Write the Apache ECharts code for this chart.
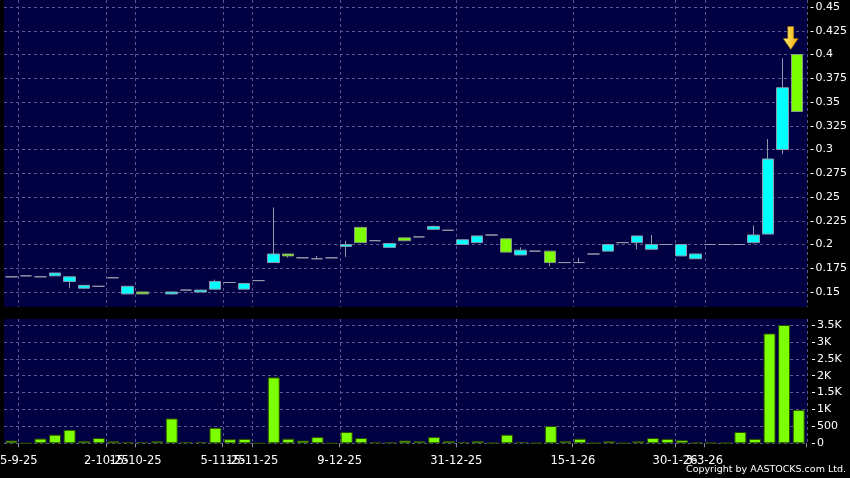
<!DOCTYPE html>
<html>
<head>
<meta charset="utf-8">
<script src="https://cdn.jsdelivr.net/npm/echarts@6/dist/echarts.min.js"></script>
<style>
html,body{margin:0;padding:0;background:#000;overflow:hidden;}
#chart{position:absolute;left:-30px;top:0;width:880px;height:478px;}
</style>
</head>
<body>
<div id="chart"></div>
<script>
// ---- data ----
const opens  = [0.166,0.167,0.166,0.167,0.161,0.154,0.156,0.165,0.148,0.150,0.147,0.148,0.152,0.150,0.153,0.160,0.153,0.162,0.181,0.190,0.186,0.185,0.186,0.198,0.218,0.204,0.197,0.207,0.208,0.216,0.215,0.200,0.202,0.210,0.206,0.189,0.193,0.193,0.181,0.181,0.190,0.193,0.202,0.202,0.195,0.200,0.188,0.185,0.200,0.200,0.200,0.202,0.211,0.300,0.400];
const closes = [0.166,0.167,0.166,0.170,0.166,0.157,0.156,0.165,0.156,0.148,0.147,0.150,0.152,0.152,0.161,0.160,0.159,0.162,0.190,0.188,0.186,0.185,0.186,0.200,0.202,0.204,0.201,0.204,0.208,0.219,0.215,0.205,0.209,0.210,0.192,0.194,0.193,0.181,0.181,0.181,0.190,0.200,0.202,0.209,0.200,0.200,0.200,0.190,0.200,0.200,0.200,0.210,0.290,0.365,0.340];
const lows   = [0.166,0.167,0.166,0.167,0.154,0.153,0.156,0.165,0.148,0.148,0.146,0.147,0.152,0.150,0.153,0.160,0.153,0.162,0.181,0.186,0.186,0.185,0.186,0.187,0.202,0.204,0.197,0.204,0.208,0.216,0.215,0.200,0.202,0.210,0.192,0.189,0.193,0.177,0.181,0.181,0.190,0.193,0.202,0.195,0.195,0.200,0.188,0.185,0.200,0.200,0.200,0.201,0.211,0.295,0.340];
const highs  = [0.166,0.167,0.166,0.170,0.166,0.157,0.156,0.165,0.156,0.150,0.147,0.150,0.152,0.152,0.163,0.160,0.159,0.162,0.239,0.190,0.186,0.188,0.186,0.204,0.218,0.204,0.201,0.207,0.208,0.220,0.215,0.205,0.209,0.210,0.206,0.197,0.193,0.193,0.181,0.186,0.190,0.200,0.202,0.209,0.210,0.200,0.200,0.190,0.200,0.200,0.200,0.220,0.311,0.396,0.400];
const volumes = [80,0,140,255,400,70,155,60,40,40,60,735,40,40,460,120,130,0,1950,135,80,185,0,335,155,30,30,80,60,185,70,40,70,15,255,40,10,510,60,135,10,60,10,60,155,130,90,30,15,15,335,130,3250,3500,990];
// x-axis date labels, keyed by the category they sit on
const dateTickIndex = [1,7,9,15,17,23,31,39,46,48];
const dateTickText  = ['5-9-25','2-10-25','15-10-25','5-11-25','15-11-25','9-12-25','31-12-25','15-1-26','30-1-26','3-3-26'];
// y tick settings
const priceMin = 0.15, priceMax = 0.45, priceStep = 0.025;
const volMin = 0, volMax = 3500, volStep = 500;

// ---- build ----
const cats = opens.map((_, i) => String(i));
const tickMap = {};
const groupA = {}, groupB = {};   // alternate labels onto two overlaid axes so none get auto-hidden
dateTickIndex.forEach((k, j) => {
  tickMap[k] = dateTickText[j];
  (j % 2 === 0 ? groupA : groupB)[k] = dateTickText[j];
});
const isTick = (idx) => tickMap.hasOwnProperty(idx);

const NAVY = '#000042';
const GRIDC = '#5a5a8c';
const GREY = '#9a9aaa';
const FONT = 'DejaVu Sans';
const L = 34; // grid left inside the (shifted) canvas

const candleData = opens.map((o, i) => {
  const v = [o, closes[i], lows[i], highs[i]];
  if (o === closes[i]) {
    return { value: v, itemStyle: { color: GREY, color0: GREY, borderColor: GREY, borderColor0: GREY } };
  }
  return v;
});
const last = opens.length - 1;

const dashed = { color: GRIDC, type: [3, 3], width: 1 };
const labelStyle = { color: '#ffffff', fontSize: 11.5, fontFamily: FONT, margin: 12, padding: [0, 14, 0, 0], hideOverlap: false };

const chart = echarts.init(document.getElementById('chart'), null, { renderer: 'canvas' });
chart.setOption({
  animation: false,
  backgroundColor: '#000',
  textStyle: { fontFamily: FONT },
  grid: [
    { left: L, top: 0, width: 803, height: 307, show: true, backgroundColor: NAVY, borderWidth: 0 },
    { left: L, top: 7, width: 802, height: 285 },
    { left: L, top: 319, width: 803, height: 124.3, show: true, backgroundColor: NAVY, borderWidth: 0 },
    { left: L, top: 325, width: 802, height: 118.3 }
  ],
  xAxis: [
    { type: 'category', gridIndex: 0, data: cats, boundaryGap: true,
      axisLine: { show: false }, axisTick: { show: false }, axisLabel: { show: false },
      splitLine: { show: true, interval: (i) => isTick(i), lineStyle: dashed } },
    { type: 'category', gridIndex: 1, data: cats, boundaryGap: true,
      axisLine: { show: false }, axisTick: { show: false }, axisLabel: { show: false }, splitLine: { show: false } },
    { type: 'category', gridIndex: 2, data: cats, boundaryGap: true,
      axisLine: { show: false }, axisTick: { show: false }, axisLabel: { show: false },
      splitLine: { show: true, interval: (i) => isTick(i), lineStyle: dashed } },
    { type: 'category', gridIndex: 3, position: 'bottom', data: cats, boundaryGap: true,
      axisLine: { show: false },
      axisTick: { show: true, interval: (i) => isTick(i), length: 4, lineStyle: { color: '#9090a0' } },
      axisLabel: Object.assign({ show: true, interval: (i) => groupA.hasOwnProperty(i),
        formatter: (v) => groupA[+v] || '' }, labelStyle),
      splitLine: { show: false } },
    { type: 'category', gridIndex: 3, position: 'bottom', data: cats, boundaryGap: true,
      axisLine: { show: false }, axisTick: { show: false },
      axisLabel: Object.assign({ show: true, interval: (i) => groupB.hasOwnProperty(i),
        formatter: (v) => groupB[+v] || '' }, labelStyle),
      splitLine: { show: false } }
  ],
  yAxis: [
    { type: 'value', gridIndex: 0, min: 0, max: 1, show: false },
    { type: 'value', gridIndex: 1, position: 'right', min: priceMin, max: priceMax, interval: priceStep, offset: 6,
      axisLine: { show: false },
      axisTick: { show: true, length: 3, lineStyle: { color: '#ffffff' } },
      axisLabel: { color: '#ffffff', fontSize: 11, fontFamily: FONT, margin: 5,
        formatter: (v) => String(+v.toFixed(3)) },
      splitLine: { show: true, lineStyle: dashed } },
    { type: 'value', gridIndex: 2, min: 0, max: 1, show: false },
    { type: 'value', gridIndex: 3, position: 'right', min: volMin, max: volMax, interval: volStep, offset: 6,
      axisLine: { show: false },
      axisTick: { show: true, length: 3, lineStyle: { color: '#ffffff' } },
      axisLabel: { color: '#ffffff', fontSize: 11, fontFamily: FONT, margin: 5,
        formatter: (v) => v === 0 ? '0' : (v < 1000 ? String(v) : (v / 1000) + 'K') },
      splitLine: { show: true, lineStyle: dashed } }
  ],
  series: [
    { type: 'candlestick', xAxisIndex: 1, yAxisIndex: 1, barWidth: 12, data: candleData,
      itemStyle: { color: '#00ffff', color0: '#7cff00', borderColor: '#8a9aaa', borderColor0: '#8a9a80', borderWidth: 1 },
      markPoint: {
        symbol: 'path://M4.5,0 L10.5,0 L10.5,12 L15,12 L7.5,23 L0,12 L4.5,12 Z',
        symbolSize: [15, 23],
        symbolOffset: [-6.5, -16.5],
        label: { show: false },
        itemStyle: {
          color: { type: 'linear', x: 0, y: 0, x2: 1, y2: 0,
            colorStops: [{ offset: 0, color: '#fff27a' }, { offset: 1, color: '#f0a800' }] },
          borderColor: '#a06a00', borderWidth: 0.5
        },
        data: [{ coord: [last, highs[last]] }]
      }
    },
    { type: 'bar', xAxisIndex: 3, yAxisIndex: 3, barWidth: 12, data: volumes,
      itemStyle: { color: '#7cff00', borderColor: '#2a4a00', borderWidth: 1 } }
  ],
  graphic: [
    { type: 'text', right: 4, top: 465, style: { text: 'Copyright by AASTOCKS.com Ltd.', fill: '#ffffff',
      font: '9.5px "DejaVu Sans"' } }
  ]
});
</script>
</body>
</html>
